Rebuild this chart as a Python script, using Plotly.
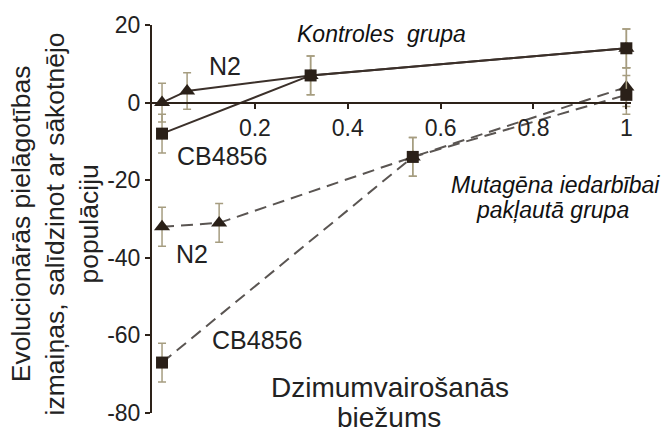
import plotly.graph_objects as go

# ---- data ----
ctrl_n2_x = [0, 0.054, 0.32, 1]
ctrl_n2_y = [0, 3, 7, 14]
ctrl_n2_err = [5, 4.7, 5, 5]

ctrl_cb_x = [0, 0.32, 1]
ctrl_cb_y = [-8, 7, 14]
ctrl_cb_err = [5, 5, 5]

mut_n2_x = [0, 0.123, 0.54, 1]
mut_n2_y = [-32, -31, -14, 4]
mut_n2_err = [5, 5, 5, 5]

mut_cb_x = [0, 0.54, 1]
mut_cb_y = [-67, -14, 2]
mut_cb_err = [5, 5, 5]

x_tickvals = [0.2, 0.4, 0.6, 0.8, 1]
x_ticktext = ["0.2", "0.4", "0.6", "0.8", "1"]
y_tickvals = [-80, -60, -40, -20, 0, 20]
y_ticktext = ["-80", "-60", "-40", "-20", "0", "20"]

# ---- style ----
W, H = 661, 438
ML, MR, MT, MB = 152, 30, 25, 18
PW, PH = W - ML - MR, H - MT - MB
FONT = "Liberation Sans, Arial, sans-serif"
MARK = "#2a2018"
ERR = "#a69d80"
AX = "#2d2219"
TXT = "#222222"


def px(xp):
    return (xp - ML) / PW


def py(yp):
    return (H - MB - yp) / PH


fig = go.Figure()


def add(x, y, err, dash, sym, size, lcolor):
    fig.add_trace(go.Scatter(
        x=x, y=y, mode="lines+markers",
        line=dict(color=lcolor, width=2, dash=dash),
        marker=dict(symbol=sym, size=size, color=MARK),
        error_y=dict(type="data", array=err, visible=True,
                     color=ERR, thickness=1.5, width=4),
        cliponaxis=False, showlegend=False, hoverinfo="skip"))


add(mut_n2_x, mut_n2_y, mut_n2_err, "12px,7px", "triangle-up", 14, "#5a5552")
add(mut_cb_x, mut_cb_y, mut_cb_err, "12px,7px", "square", 12, "#5a5552")
add(ctrl_n2_x, ctrl_n2_y, ctrl_n2_err, "solid", "triangle-up", 14, "#3b302a")
add(ctrl_cb_x, ctrl_cb_y, ctrl_cb_err, "solid", "square", 12, "#3b302a")

ann = []


def text(t, x, y, size, italic=False, angle=0):
    ann.append(dict(text=t, x=px(x), y=py(y), xref="paper", yref="paper",
                    showarrow=False, textangle=angle,
                    xanchor="center", yanchor="middle",
                    font=dict(family=FONT, size=size, color=TXT if not italic else "#111",
                              style="italic" if italic else "normal")))


text("N2", 225, 67, 25)
text("CB4856", 222, 158, 25)
text("N2", 192, 258, 25)
text("CB4856", 257, 346, 25)
text("Kontroles  grupa", 381, 34, 23, italic=True)
text("Mutagēna iedarbībai", 555, 188, 23, italic=True)
text("pakļautā grupa", 552, 213, 23, italic=True)
text("Dzimumvairošanās", 390, 394, 28)
text("biežums", 389, 425, 28)
text("Evolucionārās pielāgotības<br>izmaiņas, salīdzinot ar sākotnējo<br>populāciju",
     55, 228, 26.5, angle=-90)

fig.update_layout(
    width=W, height=H,
    margin=dict(l=ML, r=MR, t=MT, b=MB, pad=0),
    paper_bgcolor="white", plot_bgcolor="white",
    annotations=ann,
    xaxis=dict(range=[-0.0216, 1.01], anchor="free", position=0.8,
               showline=True, linecolor=AX, linewidth=2,
               ticks="outside", ticklen=5, tickwidth=2, tickcolor=AX,
               tickvals=x_tickvals, ticktext=x_ticktext,
               tickfont=dict(family=FONT, size=23, color=TXT),
               showgrid=False, zeroline=False),
    yaxis=dict(range=[-80, 20], domain=[0, 1],
               showline=True, linecolor=AX, linewidth=2,
               ticks="outside", ticklen=5, tickwidth=2, tickcolor=AX,
               tickvals=y_tickvals, ticktext=y_ticktext,
               tickfont=dict(family=FONT, size=23, color=TXT),
               showgrid=False, zeroline=False),
)

fig.write_html("out.html")
